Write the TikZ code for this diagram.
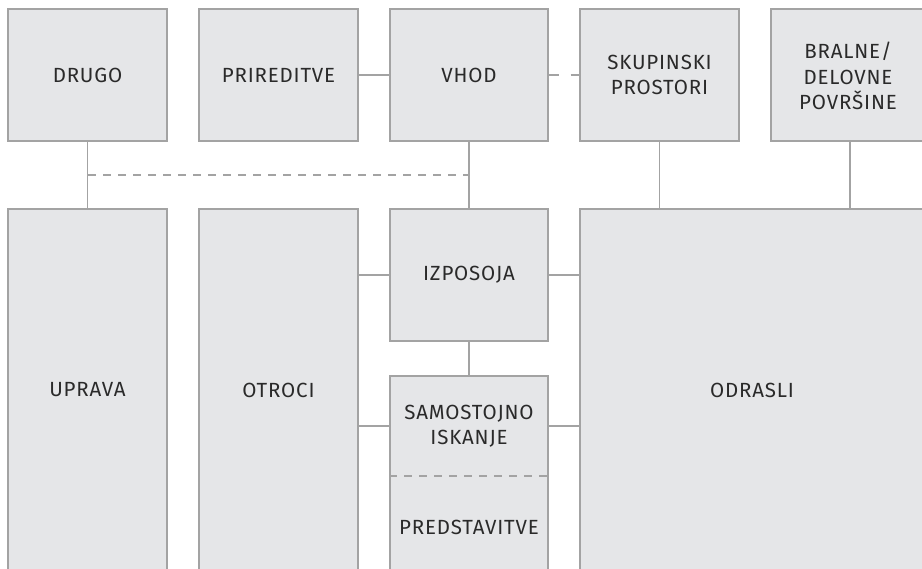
\documentclass[tikz,border=0pt]{standalone}
\usepackage{fontspec}
\setmainfont{Fira Sans}[LetterSpace=4]
\definecolor{boxfill}{HTML}{E5E6E8}
\definecolor{boxline}{HTML}{A3A3A3}
\definecolor{txt}{HTML}{2A2A2A}
\begin{document}
\begin{tikzpicture}[x=1pt,y=-1pt,
  box/.style={draw=boxline,fill=boxfill,line width=1.2pt,rectangle,inner sep=0pt},
  lbl/.style={text=txt,font=\fontsize{20.5}{25.5}\selectfont,align=center,inner sep=0pt},
  conn/.style={draw=boxline,line width=1.2pt},
  dconn/.style={draw=boxline,line width=1.2pt,dash pattern=on 8pt off 7pt}]
\useasboundingbox (0,0) rectangle (922,569);
\clip (0,0) rectangle (922,569);
% top row
\node[box,minimum width=159pt,minimum height=132pt] (drugo) at (87.5,75) {};
\node[lbl] at (drugo.center) {DRUGO};
\node[box,minimum width=159pt,minimum height=132pt] (prir) at (278.5,75) {};
\node[lbl] at (prir.center) {PRIREDITVE};
\node[box,minimum width=158pt,minimum height=132pt] (vhod) at (469,75) {};
\node[lbl] at (vhod.center) {VHOD};
\node[box,minimum width=159pt,minimum height=132pt] (skup) at (659.5,75) {};
\node[lbl] at (skup.center) {SKUPINSKI\\PROSTORI};
\node[box,minimum width=158pt,minimum height=132pt] (bral) at (850,75) {};
\node[lbl] at (848,76) {BRALNE/\\DELOVNE\\POVRŠINE};
% bottom row
\node[box,minimum width=159pt,minimum height=372pt] (uprava) at (87.5,395) {};
\node[lbl] at (87.5,390) {UPRAVA};
\node[box,minimum width=159pt,minimum height=372pt] (otroci) at (278.5,395) {};
\node[lbl] at (278.5,390) {OTROCI};
\node[box,minimum width=158pt,minimum height=132pt] (izpo) at (469,275) {};
\node[lbl] at (izpo.center) {IZPOSOJA};
\node[box,minimum width=158pt,minimum height=204pt] (samo) at (469,478) {};
\node[lbl] (samot) at (469,426) {SAMOSTOJNO\\ISKANJE};
\node[lbl] (pred) at (469,527) {PREDSTAVITVE};
\node[box,minimum width=350pt,minimum height=372pt] (odr) at (755,395) {};
\node[lbl] at (752,390) {ODRASLI};
% connectors
\coordinate (dj) at (88,175);
\coordinate (vj) at (469,175);
\draw[conn] (drugo.south) -- (uprava.north);
\draw[conn] (vhod.south) -- (izpo.north);
\draw[dconn] (dj) -- (vj);
\draw[conn] (prir.east) -- (vhod.west);
\draw[dconn,dash pattern=on 10pt off 12pt] (vhod.east) -- (skup.west);
\draw[conn] (skup.south) -- (skup.south |- odr.north);
\draw[conn] (bral.south) -- (bral.south |- odr.north);
\draw[conn] (izpo.south) -- (samo.north);
\draw[conn] (izpo.west) -- (izpo.west -| otroci.east);
\draw[conn] (izpo.east) -- (izpo.east -| odr.west);
\draw[conn] (samot.center -| samo.west) -- (samot.center -| otroci.east);
\draw[conn] (samot.center -| samo.east) -- (samot.center -| odr.west);
\coordinate (sl) at (samo.west |- 0,476);
\coordinate (sr) at (samo.east |- 0,476);
\draw[dconn] (sl) -- (sr);
\end{tikzpicture}
\end{document}
